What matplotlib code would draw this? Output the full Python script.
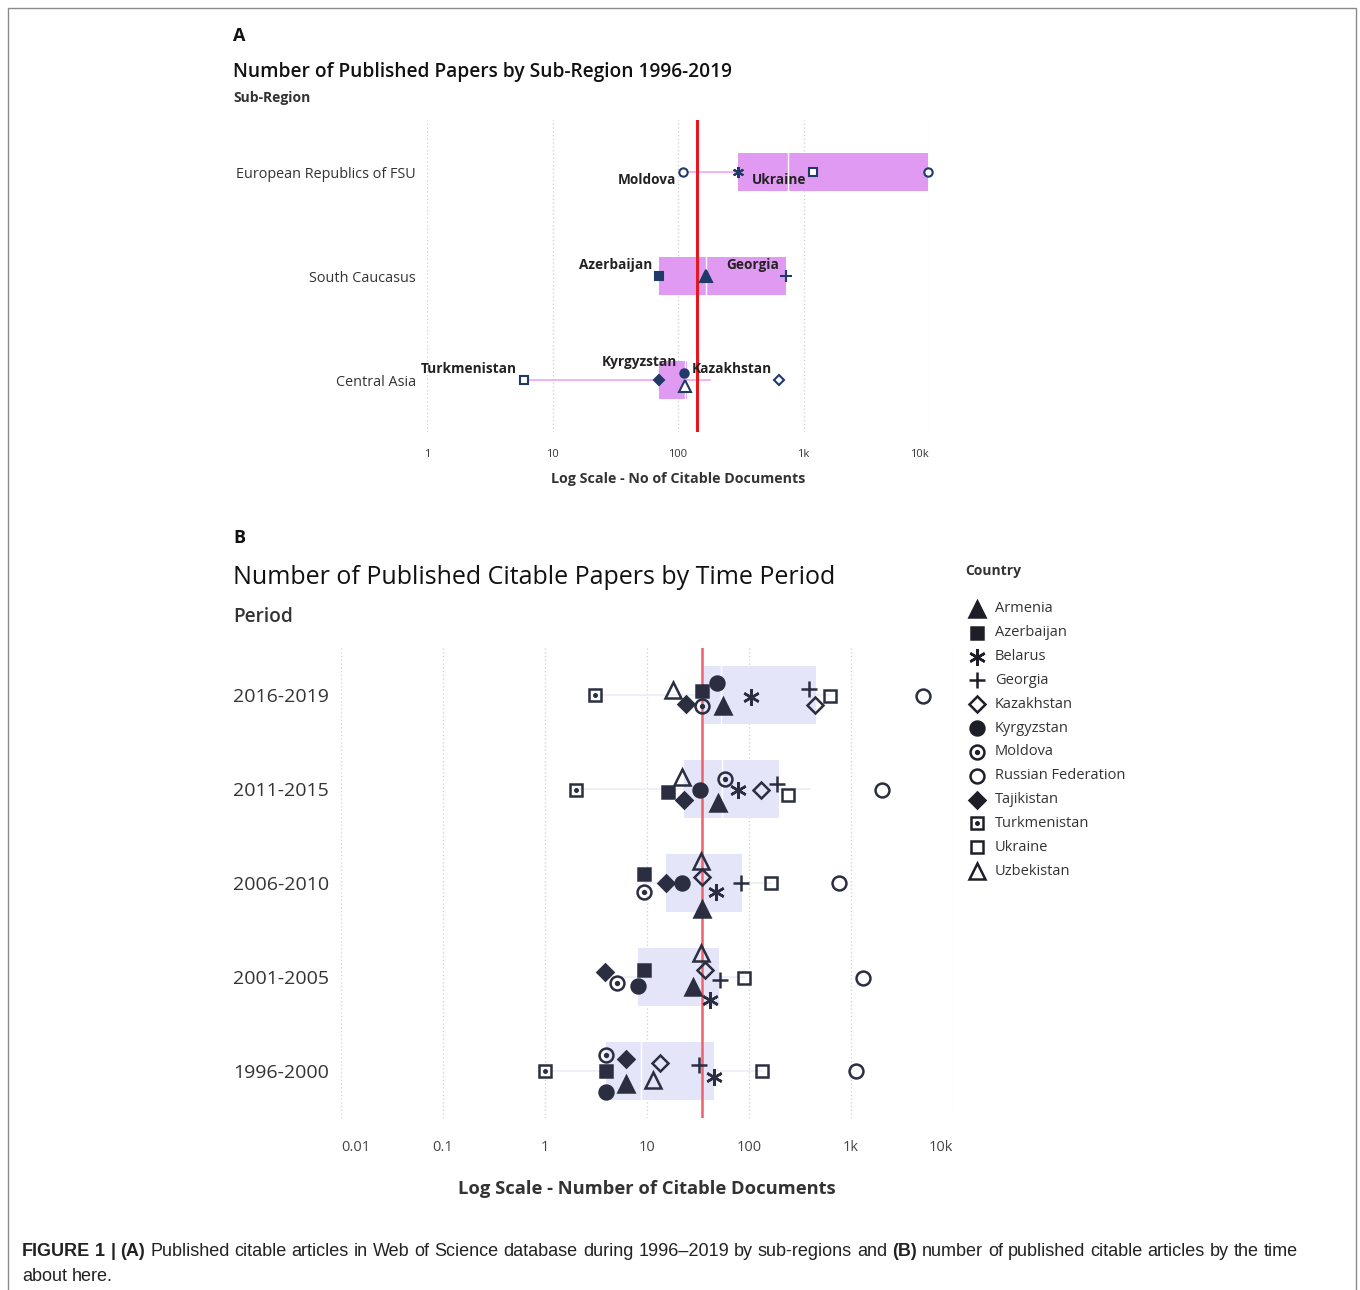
import numpy as np
import matplotlib
matplotlib.use('Agg')
import matplotlib.pyplot as plt
from matplotlib.patches import Rectangle

W, H = 1360, 1290
FONT = 'Open Sans'
plt.rcParams['font.family'] = [FONT, 'DejaVu Sans']

# ---------------- panel A data ----------------
regions = ['European Republics of FSU', 'South Caucasus', 'Central Asia']
a_countries = ['Moldova', 'Belarus', 'Ukraine', 'Russian Federation',
               'Azerbaijan', 'Armenia', 'Georgia',
               'Turkmenistan', 'Tajikistan', 'Kyrgyzstan', 'Uzbekistan', 'Kazakhstan']
a_region = [0, 0, 0, 0, 1, 1, 1, 2, 2, 2, 2, 2]
a_values = [110, 300, 1200, 9800, 71, 167, 730, 5.9, 71, 112, 114, 640]
a_jitter = [0, 0, 0, 0, 0, 0, 0, 0, 0, -0.07, 0.06, 0]
# box stats per region: q1, median, q3, whisker low, whisker high
a_q1 = [300, 71, 71]
a_med = [750, 167, 113]
a_q3 = [9800, 730, 118]
a_wlo = [110, 71, 5.9]
a_whi = [9800, 730, 180]
a_mean = 142
a_labels = {'Moldova': 'below', 'Ukraine': 'below', 'Azerbaijan': 'above',
            'Georgia': 'above', 'Turkmenistan': 'above', 'Kyrgyzstan': 'above',
            'Kazakhstan': 'above'}

# ---------------- panel B data ----------------
periods = ['2016-2019', '2011-2015', '2006-2010', '2001-2005', '1996-2000']
countries = ['Armenia', 'Azerbaijan', 'Belarus', 'Georgia', 'Kazakhstan', 'Kyrgyzstan',
             'Moldova', 'Russian Federation', 'Tajikistan', 'Turkmenistan', 'Ukraine',
             'Uzbekistan']
values = {
    'Armenia':            [56, 50, 35, 28, 6.2],
    'Azerbaijan':         [35, 16, 9.3, 9.3, 4.0],
    'Belarus':            [104, 78, 47, 41, 45],
    'Georgia':            [386, 187, 84, 52, 32.6],
    'Kazakhstan':         [440, 130, 35, 37, 13.3],
    'Kyrgyzstan':         [49, 33, 22, 8.2, 4.0],
    'Moldova':            [35, 58, 9.3, 5.1, 4.0],
    'Russian Federation': [5100, 2000, 760, 1300, 1130],
    'Tajikistan':         [24, 23, 15.3, 3.9, 6.2],
    'Turkmenistan':       [3.06, 2.0, np.nan, np.nan, 1.0],
    'Ukraine':            [620, 240, 164, 89, 134],
    'Uzbekistan':         [17.8, 22, 34, 34, 11.4],
}
# vertical jitter of each marker, in pixels of the original chart
jitter_px = {
    'Armenia':            [11, 14, 26, 10, 13],
    'Azerbaijan':         [-4, 3, -9, -7, 0],
    'Belarus':            [2, 1, 9, 23, 6],
    'Georgia':            [-6, -5, 0, 3, -6],
    'Kazakhstan':         [10, 1, -6, -7, -8],
    'Kyrgyzstan':         [-12, 1, 0, 9, 21],
    'Moldova':            [11, -10, 9, 6, -16],
    'Russian Federation': [1, 1, 0, 1, 0],
    'Tajikistan':         [9, 11, 0, -5, -12],
    'Turkmenistan':       [0, 1, 0, 0, 0],
    'Ukraine':            [1, 6, 0, 1, 0],
    'Uzbekistan':         [-5, -12, -22, -24, 9],
}
b_q1 = [36, 23, 15.3, 8.1, 4]
b_med = [53, 54, 35, 34, 8.8]
b_q3 = [455, 195, 85, 51, 45]
b_wlo = [3.06, 2.0, 9.3, 3.9, 1.0]
b_whi = [620, 400, 164, 89, 134]
b_mean = 34.3

# marker styles: marker, filled, dot in centre
styles = {
    'Armenia': ('^', True, False), 'Azerbaijan': ('s', True, False),
    'Belarus': ((6, 2, 0), False, False), 'Georgia': ('+', False, False),
    'Kazakhstan': ('D', False, False), 'Kyrgyzstan': ('o', True, False),
    'Moldova': ('o', False, True), 'Russian Federation': ('o', False, False),
    'Tajikistan': ('D', True, False), 'Turkmenistan': ('s', False, True),
    'Ukraine': ('s', False, False), 'Uzbekistan': ('^', False, False),
}
b_size = {'^': 11, 's': 9, 'o': 10, 'D': 8.5, '+': 12}

fig = plt.figure(figsize=(W / 100, H / 100), dpi=100)


def px_axes(x0, y0, x1, y1):
    return fig.add_axes([x0 / W, 1 - y1 / H, (x1 - x0) / W, (y1 - y0) / H])


def ftext(x, y, s, **kw):
    return fig.text(x / W, 1 - y / H, s, **kw)


def draw_marker(ax, x, y, name, color, ms, mew):
    mk, filled, dot = styles[name]
    if not isinstance(mk, str):
        size = ms * 1.2
    else:
        size = b_size.get(mk, ms) * ms / 10.0
    ax.plot([x], [y], marker=mk, ms=size, mew=mew, mec=color,
            mfc=color if filled else 'none', ls='none', zorder=5, clip_on=False)
    if dot:
        ax.plot([x], [y], marker='o', ms=size * 0.28, mec=color, mfc=color,
                ls='none', zorder=6, clip_on=False)


# border of the figure page
fig.patches.append(Rectangle((8 / W, -0.1), (1356 - 8) / W, 1 - 8 / H + 0.1,
                             transform=fig.transFigure, fill=False,
                             edgecolor='#8a8a8a', lw=1))

# ================= Panel A =================
ink = '#1f3a68'
axA = px_axes(427, 120, 929, 432)
axA.set_xscale('log')
axA.set_xlim(1, 1e4)
axA.set_ylim(2.5, -0.5)
for s in axA.spines.values():
    s.set_visible(False)
axA.grid(axis='x', linestyle=(0, (1, 2)), color='#cfcfcf', lw=0.9)
axA.set_axisbelow(True)
axA.set_xticks([1, 10, 100, 1000, 10000])
xa = axA.set_xticklabels(['1', '10', '100', '1k', '10k'], fontsize=8, color='#333333')
xa[-1].set_ha('right')
axA.xaxis.set_minor_locator(matplotlib.ticker.NullLocator())
axA.tick_params(axis='x', length=0, pad=12)
axA.set_yticks(range(len(regions)))
axA.set_yticklabels(regions, fontsize=10.4, color='#333333')
axA.tick_params(axis='y', length=0, pad=8)

hA = 0.37
for i in range(len(regions)):
    axA.plot([a_wlo[i], a_q1[i]], [i, i], color='#f2a6f2', lw=1.2, zorder=2)
    axA.plot([a_q3[i], a_whi[i]], [i, i], color='#f2a6f2', lw=1.2, zorder=2)
    axA.add_patch(Rectangle((a_q1[i], i - hA / 2), a_q3[i] - a_q1[i], hA,
                            facecolor='#e09af2', edgecolor='none', zorder=3))
    axA.plot([a_med[i], a_med[i]], [i - hA / 2, i + hA / 2], color='white', lw=1, zorder=3)

for name, r, v, j in zip(a_countries, a_region, a_values, a_jitter):
    mk, filled, dot = styles[name]
    ms = {'o': 6, 's': 5.5, '^': 8, 'D': 5.5, '+': 9}.get(mk, 8) if isinstance(mk, str) else 8
    axA.plot([v], [r + j], marker=mk, ms=ms, mew=1.5, mec=ink,
             mfc=ink if filled else 'white', ls='none', zorder=5, clip_on=False)
    if name in a_labels:
        dy = 8 if a_labels[name] == 'below' else -11
        axA.annotate(name, (v, r + j), xytext=(-5, -dy * 0.72), textcoords='offset points',
                     ha='right', va='center', fontsize=9.8, fontweight='bold',
                     color='#222222', zorder=7)

axA.axvline(a_mean, color='#e8161f', lw=2.2, zorder=4)

ftext(233, 36, 'A', fontsize=13, fontweight='bold', va='center', color='#111111')
ftext(233, 72, 'Number of Published Papers by Sub-Region 1996-2019', fontsize=13.8,
      fontweight='semibold', va='center', color='#111111')
ftext(233, 98, 'Sub-Region', fontsize=10, fontweight='bold', va='center', color='#333333')
ftext(678, 479, 'Log Scale - No of Citable Documents', fontsize=10.3, fontweight='bold',
      va='center', ha='center', color='#333333')

# ================= Panel B =================
dark = '#2b2e40'
axB = px_axes(341, 648, 953, 1118)
axB.set_xscale('log')
axB.set_xlim(0.01, 1e4)
axB.set_ylim(4.5, -0.5)
for s in axB.spines.values():
    s.set_visible(False)
axB.grid(axis='x', linestyle=(0, (1, 2)), color='#cfcfcf', lw=0.9)
axB.set_axisbelow(True)
axB.xaxis.set_minor_locator(matplotlib.ticker.NullLocator())
axB.set_xticks([0.01, 0.1, 1, 10, 100, 1000, 10000])
xl = axB.set_xticklabels(['0.01', '0.1', '1', '10', '100', '1k', '10k'], fontsize=10.5,
                         color='#444444')
xl[0].set_ha('left')
xl[-1].set_ha('right')
axB.tick_params(axis='x', length=0, pad=16)
axB.set_yticks(range(len(periods)))
yl = axB.set_yticklabels(periods, fontsize=14, color='#333333')
for t in yl:
    t.set_ha('left')
axB.tick_params(axis='y', length=0, pad=108 * 0.72)

hB = 0.62
for i in range(len(periods)):
    axB.plot([b_wlo[i], b_q1[i]], [i, i], color='#ececf6', lw=1.2, zorder=2)
    axB.plot([b_q3[i], b_whi[i]], [i, i], color='#ececf6', lw=1.2, zorder=2)
    axB.add_patch(Rectangle((b_q1[i], i - hB / 2), b_q3[i] - b_q1[i], hB,
                            facecolor='#e4e5f9', edgecolor='none', zorder=3))
    axB.plot([b_med[i], b_med[i]], [i - hB / 2, i + hB / 2], color='white', lw=1, zorder=3)

axB.axvline(b_mean, color='#f0606a', lw=1.8, zorder=4)

for name in countries:
    for i in range(len(periods)):
        v = values[name][i]
        if np.isnan(v):
            continue
        y = i + jitter_px[name][i] / 94.0
        draw_marker(axB, v, y, name, dark, 10, 1.8)

ftext(233, 538, 'B', fontsize=13, fontweight='bold', va='center', color='#111111')
ftext(233, 578, 'Number of Published Citable Papers by Time Period', fontsize=18,
      va='center', color='#111111')
ftext(233, 617, 'Period', fontsize=13.7, fontweight='semibold', va='center', color='#333333')
ftext(647, 1189, 'Log Scale - Number of Citable Documents', fontsize=13.2,
      fontweight='bold', va='center', ha='center', color='#333333')

# legend
ftext(965, 571, 'Country', fontsize=10, fontweight='bold', va='center', color='#333333')
axL = px_axes(960, 597, 1140, 883)
axL.set_xlim(0, 180)
axL.set_ylim(len(countries) - 0.5, -0.5)
axL.axis('off')
for k, name in enumerate(countries):
    draw_marker(axL, 17, k, name, '#1e1e28', 10, 1.8)
    axL.text(35, k, name, fontsize=10.5, va='center', color='#333333')

# ================= caption =================
cap_font = 'Liberation Sans'
renderer = fig.canvas.get_renderer()


def rich_line(x, y, parts, size=13):
    sp = ftext(0, 0, 'a a', fontsize=size, family=cap_font)
    sp2 = ftext(0, 0, 'aa', fontsize=size, family=cap_font)
    space = sp.get_window_extent(renderer).width - sp2.get_window_extent(renderer).width
    sp.remove()
    sp2.remove()
    for s, w in parts:
        words = s.split(' ')
        for n, word in enumerate(words):
            if word:
                t = ftext(x, y, word, fontsize=size, family=cap_font, fontweight=w,
                          va='baseline', color='#222222')
                x += t.get_window_extent(renderer).width
            if n < len(words) - 1:
                x += space


rich_line(22, 1256, [('FIGURE 1 | (A) ', 'bold'),
                     ('Published citable articles in Web of Science database during '
                      '1996\u20132019 by sub-regions and ', 'normal'),
                     ('(B) ', 'bold'),
                     ('number of published citable articles by the time', 'normal')])
rich_line(22, 1281, [('about here.', 'normal')])

fig.savefig('out.png', dpi=100)
